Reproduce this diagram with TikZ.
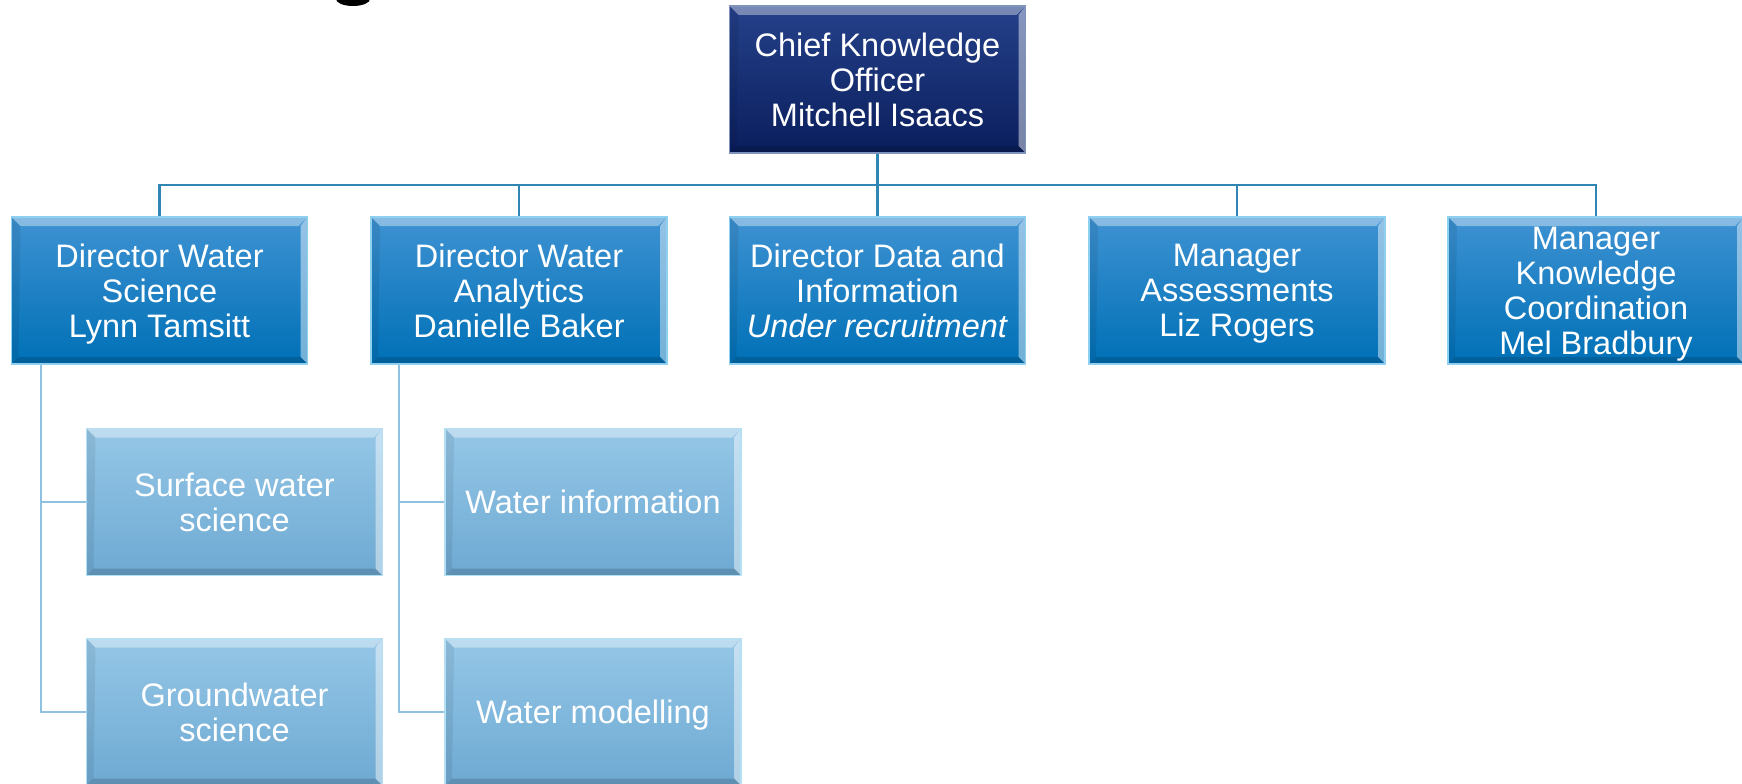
\documentclass[tikz,border=0pt]{standalone}
\usepackage{amsmath}
\usepackage{fontspec}
\setmainfont{Liberation Sans}
\usetikzlibrary{calc}
\definecolor{ceoTop}{HTML}{25418A}
\definecolor{ceoBot}{HTML}{0A1E5C}
\definecolor{ceoLine}{HTML}{7F93BD}
\definecolor{dirTop}{HTML}{3E92D2}
\definecolor{dirBot}{HTML}{0070B6}
\definecolor{dirLine}{HTML}{8ED0F0}
\definecolor{subTop}{HTML}{95C7E7}
\definecolor{subBot}{HTML}{6EA9D2}
\definecolor{subLine}{HTML}{B5DFF2}
\definecolor{connMain}{HTML}{2F86B4}
\definecolor{connSub}{HTML}{8EC0DF}
\tikzset{
  bevel/.style={path picture={
    \path (path picture bounding box.north west) coordinate (pa)
          (path picture bounding box.north east) coordinate (pb)
          (path picture bounding box.south east) coordinate (pc)
          (path picture bounding box.south west) coordinate (pd);
    \fill[white,opacity=.38] (pa) -- (pb) -- ([shift={(-9pt,-9pt)}]pb) -- ([shift={(9pt,-9pt)}]pa) -- cycle;
    \fill[white,opacity=.45] (pb) -- (pc) -- ([shift={(-7pt,7pt)}]pc) -- ([shift={(-7pt,-9pt)}]pb) -- cycle;
    \fill[black,opacity=.15] (pc) -- (pd) -- ([shift={(7pt,7pt)}]pd) -- ([shift={(-7pt,7pt)}]pc) -- cycle;
    \fill[black,opacity=.07] (pd) -- (pa) -- ([shift={(9pt,-9pt)}]pa) -- ([shift={(7pt,7pt)}]pd) -- cycle;
  }},
  orgbox/.style={bevel, minimum width=296pt, minimum height=147pt, inner sep=0pt,
    text=white, align=center, line width=1.2pt,
    font=\fontsize{32.5}{35}\selectfont},
  ceobox/.style={orgbox, draw=ceoLine, top color=ceoTop, bottom color=ceoBot},
  dirbox/.style={orgbox, draw=dirLine, top color=dirTop, bottom color=dirBot},
  subbox/.style={orgbox, draw=subLine, top color=subTop, bottom color=subBot},
  mainconn/.style={draw=connMain, line width=2.2pt},
  subconn/.style={draw=connSub, line width=2pt},
}
\begin{document}
\begin{tikzpicture}[x=1pt,y=-1pt]
\useasboundingbox (0,0) rectangle (1742,784);
\fill[white] (0,0) rectangle (1742,784);
% partial black shape at top edge
\fill[black] (353,-1) ellipse (17 and 7);

\coordinate (bus) at (0,185);

\node[ceobox] (ceo) at (877.5,79.5) {Chief Knowledge\\Officer\\Mitchell Isaacs};

\node[dirbox] (d1) at (159.5,290.5) {Director Water\\Science\\\smash[b]{Lynn Tamsitt}};
\node[dirbox] (d2) at (519,290.5) {Director Water\\Analytics\\Danielle Baker};
\node[dirbox] (d3) at (877.5,290.5) {Director Data and\\Information\\\textit{Under recruitment}};
\node[dirbox] (d4) at (1237,290.5) {Manager\\Assessments\\\smash[b]{Liz Rogers}};
\node[dirbox] (d5) at (1596,290.5) {Manager\\Knowledge\\Coordination\\\smash[b]{Mel Bradbury}};

\node[subbox] (s1) at (234.5,502) {Surface water\\science};
\node[subbox] (s2) at (234.5,712) {Groundwater\\science};
\node[subbox] (s3) at (593,502) {Water information};
\node[subbox] (s4) at (593,712) {\smash[b]{Water modelling}};

% connectors
\draw[mainconn] (ceo.south) -- (ceo.south |- bus);
\foreach \d in {d1,d2,d3,d4,d5}{
  \draw[mainconn] (ceo.south |- bus) -| (\d.north);
}
\coordinate (t1) at ($(d1.south west)+(30pt,0)$);
\coordinate (t2) at ($(d2.south west)+(29pt,0)$);
\draw[subconn] (t1) |- (s1.west);
\draw[subconn] (t1) |- (s2.west);
\draw[subconn] (t2) |- (s3.west);
\draw[subconn] (t2) |- (s4.west);
\end{tikzpicture}
\end{document}
